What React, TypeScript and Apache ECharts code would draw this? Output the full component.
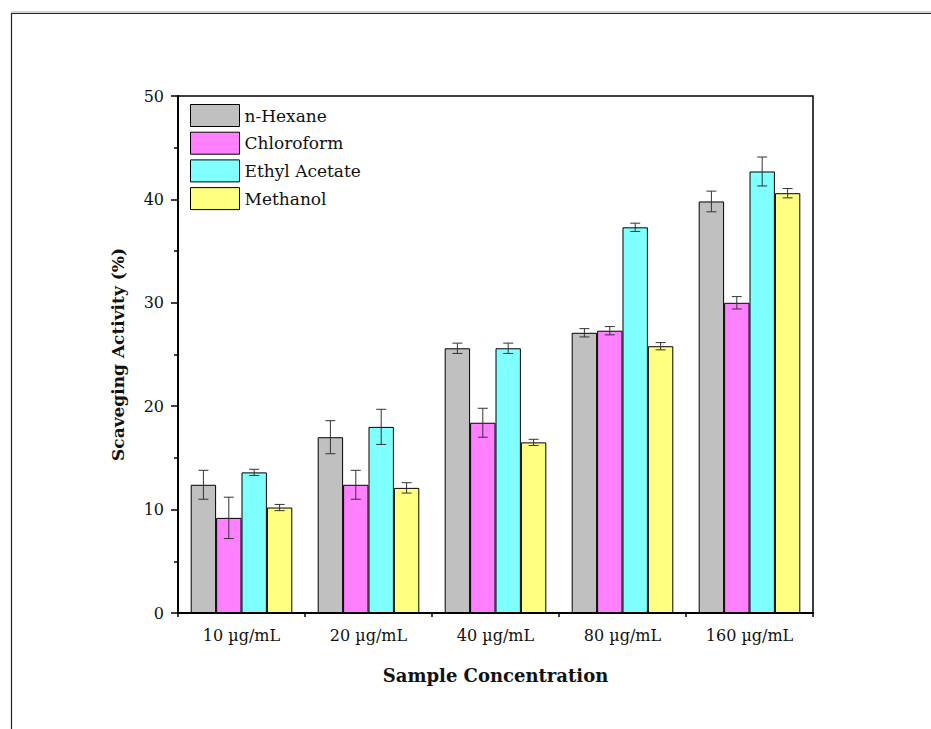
import React, { useEffect, useRef } from "react";
import * as echarts from "echarts";

const categories = ["10 µg/mL", "20 µg/mL", "40 µg/mL", "80 µg/mL", "160 µg/mL"];
const seriesNames = ["n-Hexane", "Chloroform", "Ethyl Acetate", "Methanol"];
const hexane = [12.4, 17.0, 25.6, 27.1, 39.8];
const hexaneErr = [1.4, 1.6, 0.5, 0.4, 1.0];
const chloroform = [9.2, 12.4, 18.4, 27.3, 30.0];
const chloroformErr = [2.0, 1.4, 1.4, 0.4, 0.6];
const ethylAcetate = [13.6, 18.0, 25.6, 37.3, 42.7];
const ethylAcetateErr = [0.3, 1.7, 0.5, 0.4, 1.4];
const methanol = [10.2, 12.1, 16.5, 25.8, 40.6];
const methanolErr = [0.3, 0.5, 0.3, 0.35, 0.45];
const colors = ["#C0C0C0", "#FF80FF", "#80FFFF", "#FFFF80"];
const yTicks = { min: 0, max: 50, interval: 10 };

const FONT = "DejaVu Serif";

export default function App() {
  const ref = useRef<HTMLDivElement>(null);
  useEffect(() => {
    if (!ref.current) return;
    const chart = echarts.init(ref.current, null, { renderer: "svg" });
    const values = [hexane, chloroform, ethylAcetate, methanol];
    const errs = [hexaneErr, chloroformErr, ethylAcetateErr, methanolErr];
    const offsets = [-0.3, -0.1, 0.1, 0.3];

    const barSeries = values.map((v, k) => ({
      name: seriesNames[k],
      type: "bar",
      data: v,
      barGap: "0%",
      barCategoryGap: "20%",
      itemStyle: { color: colors[k], borderColor: "#000", borderWidth: 1 },
      xAxisIndex: 0,
      yAxisIndex: 0,
    }));

    const errSeries = values.map((v, k) => ({
      name: seriesNames[k] + " err",
      type: "custom",
      xAxisIndex: 0,
      yAxisIndex: 0,
      z: 10,
      data: v.map((val, i) => [i, val, errs[k][i]]),
      renderItem: (params: any, api: any) => {
        const i = api.value(0);
        const val = api.value(1);
        const e = api.value(2);
        const band = api.size([1, 0])[0];
        const c = api.coord([i, val]);
        const x = c[0] + offsets[k] * band;
        const top = api.coord([i, val + e])[1];
        const bot = api.coord([i, val - e])[1];
        const hw = 5;
        const style = { stroke: "#333", lineWidth: 1 };
        return {
          type: "group",
          children: [
            { type: "line", shape: { x1: x, y1: top, x2: x, y2: bot }, style },
            { type: "line", shape: { x1: x - hw, y1: top, x2: x + hw, y2: top }, style },
            { type: "line", shape: { x1: x - hw, y1: bot, x2: x + hw, y2: bot }, style },
          ],
        };
      },
    }));

    chart.setOption({
      animation: false,
      backgroundColor: "#fff",
      textStyle: { fontFamily: FONT },
      grid: {
        left: 178,
        right: 118,
        top: 96,
        bottom: 116,
        show: true,
        borderColor: "#000",
        borderWidth: 1.5,
        backgroundColor: "transparent",
      },
      legend: {
        data: seriesNames,
        orient: "vertical",
        left: 190,
        top: 104,
        itemWidth: 49,
        itemHeight: 22,
        itemGap: 4.7,
        icon: "rect",
        itemStyle: { borderColor: "#000", borderWidth: 1 },
        textStyle: { fontFamily: FONT, fontSize: 17, color: "#111" },
        padding: 0,
      },
      xAxis: [
        {
          type: "category",
          data: categories,
          position: "bottom",
          axisLine: { lineStyle: { color: "#000", width: 2 } },
          axisTick: { alignWithLabel: true, length: 7, lineStyle: { color: "#000", width: 1.5 } },
          axisLabel: { fontFamily: FONT, fontSize: 16, color: "#111", margin: 14 },
          name: "Sample Concentration",
          nameLocation: "middle",
          nameGap: 53,
          nameTextStyle: { fontFamily: FONT, fontSize: 18, fontWeight: "bold", color: "#111" },
          splitLine: { show: false },
        },
        {
          type: "value",
          min: 0,
          max: 5,
          interval: 1,
          position: "bottom",
          axisLine: { show: false },
          axisTick: { show: true, length: 4, lineStyle: { color: "#000", width: 1.5 } },
          axisLabel: { show: false },
          splitLine: { show: false },
        },
      ],
      yAxis: {
        type: "value",
        min: yTicks.min,
        max: yTicks.max,
        interval: yTicks.interval,
        axisLine: { show: true, lineStyle: { color: "#000", width: 2 } },
        axisTick: { show: true, length: 7, lineStyle: { color: "#000", width: 1.5 } },
        minorTick: { show: true, splitNumber: 2, length: 4, lineStyle: { color: "#000", width: 1.5 } },
        axisLabel: { fontFamily: FONT, fontSize: 16, color: "#111", margin: 14 },
        splitLine: { show: false },
        name: "Scaveging Activity (%)",
        nameLocation: "middle",
        nameGap: 52,
        nameTextStyle: { fontFamily: FONT, fontSize: 17, fontWeight: "bold", color: "#111" },
      },
      graphic: [
        { type: "line", shape: { x1: 11, y1: 12, x2: 931, y2: 12 }, style: { stroke: "#aaa", lineWidth: 1 } },
        { type: "line", shape: { x1: 11, y1: 13.5, x2: 931, y2: 13.5 }, style: { stroke: "#222", lineWidth: 1.2 } },
        { type: "line", shape: { x1: 11.5, y1: 13, x2: 11.5, y2: 729 }, style: { stroke: "#222", lineWidth: 1.2 } },
      ],
      series: [...barSeries, ...errSeries],
    });
    return () => chart.dispose();
  }, []);
  return (
    <div
      ref={ref}
      style={{ position: "absolute", left: 0, top: 0, width: 931, height: 729 }}
    />
  );
}
